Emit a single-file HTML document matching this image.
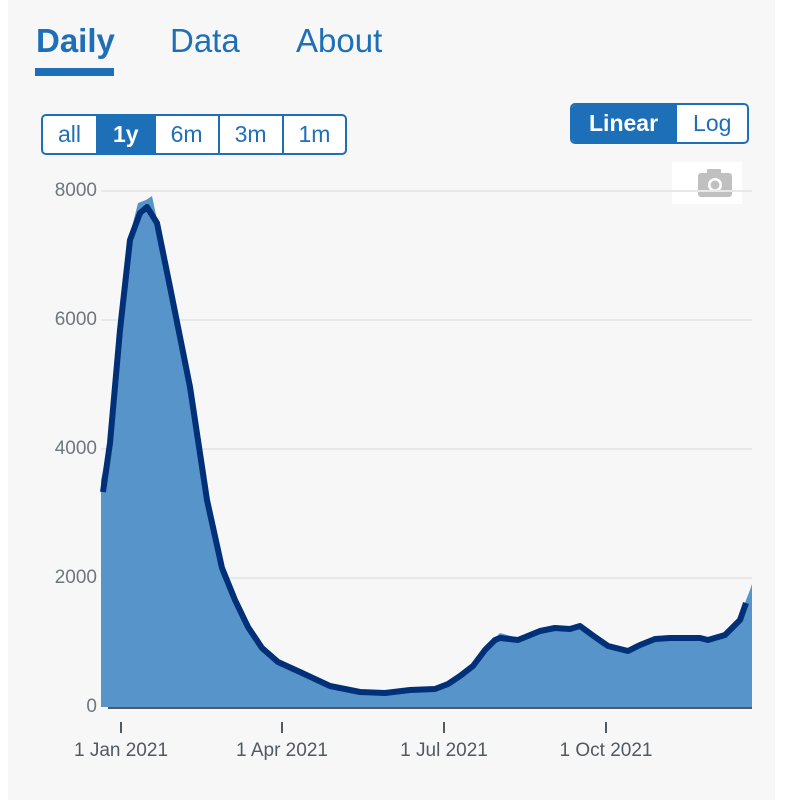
<!DOCTYPE html>
<html><head><style>
body{margin:0;width:788px;height:800px;background:#fff;font-family:"Liberation Sans",sans-serif;overflow:hidden}
.panel{position:absolute;left:8px;top:0;width:767px;height:800px;background:#f7f7f7}
.tab{position:absolute;top:22px;font-size:33px;color:#1d70b8}
.btns{position:absolute;display:flex;border:2px solid #1d70b8;border-radius:5px;overflow:hidden;background:#fff}
.btns div{font-size:23px;color:#1d70b8;padding:0 15px;line-height:37px;border-right:2px solid #1d70b8}
.btns div:last-child{border-right:none}
.btns .on{background:#1d70b8;color:#fff;font-weight:bold}
.yl{position:absolute;left:0;width:97px;text-align:right;font-size:19px;color:#6f777b}
.xl{position:absolute;top:740px;font-size:19px;color:#505a5f;transform:translateX(-50%)}
</style></head><body>
<div class="panel"></div>
<div class="tab" style="left:36px;font-weight:bold;color:#1d70b8">Daily</div>
<div style="position:absolute;left:35px;top:68px;width:79px;height:8px;background:#1d70b8"></div>
<div class="tab" style="left:170px">Data</div>
<div class="tab" style="left:296px">About</div>
<div class="btns" style="left:41px;top:114px"><div>all</div><div class="on">1y</div><div>6m</div><div>3m</div><div>1m</div></div>
<div class="btns" style="left:570px;top:103px"><div class="on" style="padding:0 17px">Linear</div><div style="padding:0 16px">Log</div></div>
<div style="position:absolute;left:672px;top:162px;width:70px;height:42px;background:#fff"></div>
<svg width="788" height="800" style="position:absolute;left:0;top:0">
<g fill="#c0c0c0"><rect x="698" y="173" width="34" height="24" rx="3"/><rect x="707" y="169" width="14" height="6" rx="1"/></g>
<circle cx="715" cy="185" r="7" fill="#fff"/><circle cx="715" cy="185" r="4.5" fill="#c0c0c0"/>
<g stroke="#e8e8e8" stroke-width="2"><line x1="101" y1="191" x2="752" y2="191"/><line x1="101" y1="320" x2="752" y2="320"/><line x1="101" y1="449" x2="752" y2="449"/><line x1="101" y1="578" x2="752" y2="578"/></g>
<path fill="#5694ca" d="M101,707 L101,480 L110,438 L120,330 L130,235 L138,203 L146,200 L152,196 L156,215 L170,282 L190,383 L207,498 L222,566 L235,598 L248,625 L262,646 L278,660 L300,670 L330,684 L360,690 L385,691 L410,688 L435,687 L448,682 L460,674 L473,664 L485,648 L495,638 L500,633 L518,638 L540,629 L555,625 L570,627 L580,624 L595,635 L608,644 L628,649 L640,643 L655,637 L670,636 L700,636 L708,638 L725,633 L740,618 L746,600 L750,590 L752,584 L752,707 Z"/>
<path fill="none" stroke="#003078" stroke-width="6" stroke-linejoin="round" d="M103,492 L110,443 L120,330 L130,240 L140,213 L147,207 L157,223 L170,287 L190,387 L207,500 L222,568 L235,600 L248,627 L262,648 L278,662 L300,672 L330,686 L360,692 L385,693 L410,690 L435,689 L448,684 L460,676 L473,666 L485,650 L495,640 L500,638 L518,640 L540,631 L555,628 L570,629 L580,626 L595,637 L608,646 L628,651 L640,645 L655,639 L670,638 L700,638 L708,640 L725,635 L740,620 L746,603"/>
<line x1="108" y1="708" x2="752" y2="708" stroke="#505a5f" stroke-width="2"/>
<g stroke="#505a5f" stroke-width="2"><line x1="121" y1="722" x2="121" y2="733"/><line x1="282" y1="722" x2="282" y2="733"/><line x1="444" y1="722" x2="444" y2="733"/><line x1="606" y1="722" x2="606" y2="733"/></g>
</svg>
<div class="yl" style="top:180px">8000</div>
<div class="yl" style="top:309px">6000</div>
<div class="yl" style="top:438px">4000</div>
<div class="yl" style="top:567px">2000</div>
<div class="yl" style="top:696px">0</div>
<div class="xl" style="left:121px">1 Jan 2021</div>
<div class="xl" style="left:282px">1 Apr 2021</div>
<div class="xl" style="left:444px">1 Jul 2021</div>
<div class="xl" style="left:606px">1 Oct 2021</div>
</body></html>
